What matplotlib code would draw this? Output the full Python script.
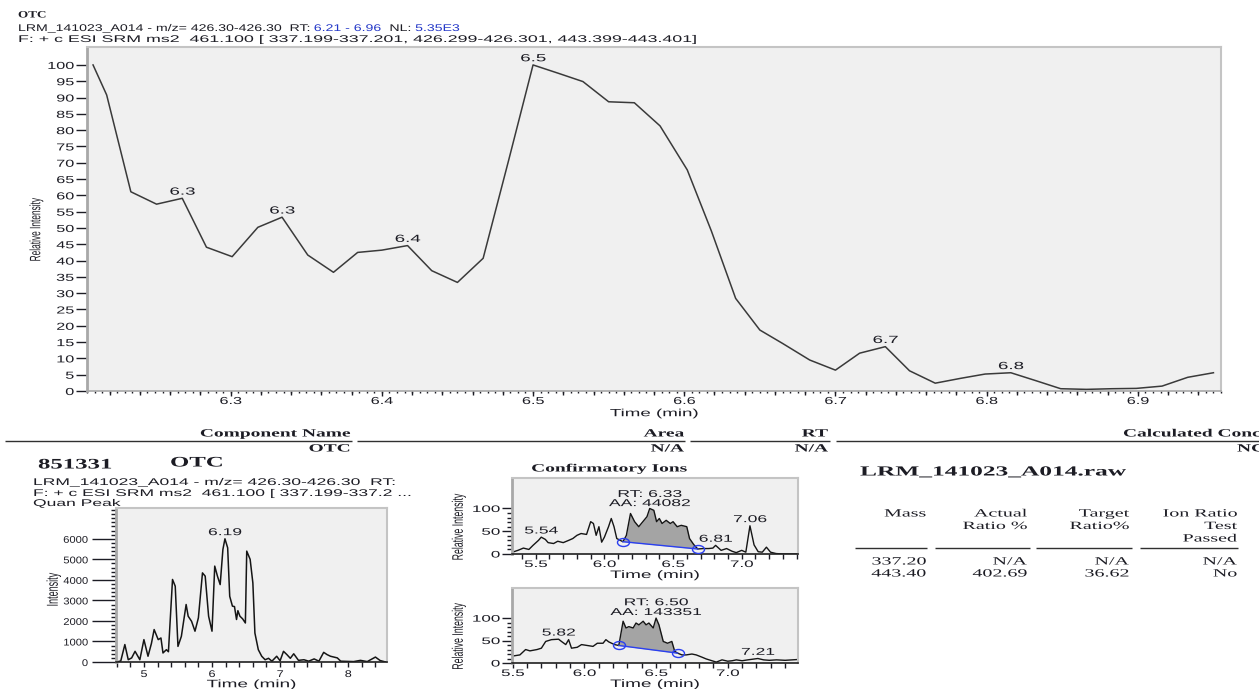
import numpy as np
import matplotlib
matplotlib.use("Agg")
import matplotlib.pyplot as plt
from matplotlib.patheffects import AbstractPathEffect
from matplotlib.transforms import Affine2D
from matplotlib.ticker import MultipleLocator, FixedLocator
from matplotlib.path import Path

# XIC of m/z 426.30, relative intensity (NL 5.35E3)
xic_time = [6.209, 6.218, 6.234, 6.251, 6.268, 6.284, 6.301, 6.318, 6.334, 6.351,
            6.368, 6.384, 6.400, 6.417, 6.433, 6.450, 6.467, 6.484, 6.500, 6.517,
            6.533, 6.550, 6.567, 6.584, 6.602, 6.618, 6.634, 6.650, 6.665, 6.683,
            6.700, 6.716, 6.733, 6.749, 6.766, 6.783, 6.799, 6.816, 6.833, 6.849,
            6.866, 6.883, 6.899, 6.916, 6.933, 6.950]
xic_rel = [100, 90.8, 61.1, 57.3, 59.1, 44.1, 41.2, 50.2, 53.3, 41.7,
           36.4, 42.5, 43.2, 44.6, 36.9, 33.3, 40.7, 71.0, 100, 97.4,
           94.9, 88.7, 88.4, 81.3, 67.8, 49.0, 28.4, 18.7, 14.6, 9.5,
           6.4, 11.6, 13.6, 6.2, 2.4, 3.9, 5.2, 5.6, 3.1, 0.7,
           0.5, 0.7, 0.8, 1.5, 4.2, 5.6]
xic_apex = [6.268, 6.334, 6.417, 6.500, 6.733, 6.816]

# quan peak trace (intensity counts)
quan_time = [4.60, 4.66, 4.72, 4.77, 4.82, 4.87, 4.94, 5.00, 5.06, 5.11,
             5.15, 5.21, 5.25, 5.28, 5.33, 5.36, 5.42, 5.46, 5.50, 5.55,
             5.62, 5.65, 5.70, 5.75, 5.80, 5.86, 5.90, 5.95, 6.00, 6.04,
             6.08, 6.12, 6.16, 6.19, 6.23, 6.26, 6.30, 6.33, 6.36, 6.38,
             6.41, 6.45, 6.49, 6.51, 6.56, 6.60, 6.63, 6.68, 6.73, 6.78,
             6.83, 6.88, 6.95, 7.00, 7.05, 7.10, 7.15, 7.20, 7.27, 7.35,
             7.42, 7.50, 7.57, 7.64, 7.69, 7.74, 7.84, 7.89, 7.98, 8.08,
             8.18, 8.28, 8.40, 8.47, 8.55]
quan_int = [0, 50, 850, 110, 200, 520, 110, 1090, 280, 900,
            1580, 1090, 1170, 440, 600, 500, 4020, 3690, 760, 1250,
            2800, 2230, 1980, 1500, 2150, 4340, 4180, 2230, 1500, 4670,
            4180, 3770, 5480, 6000, 5560, 3200, 2720, 2700, 2070, 2500,
            2230, 2100, 1900, 5400, 5000, 3850, 1410, 600, 280, 110,
            180, 40, 280, 60, 520, 360, 180, 400, 80, 110,
            40, 150, 40, 470, 360, 280, 200, 40, 30, 20,
            80, 20, 240, 70, 0]
quan_apex = 6.19

# confirmatory ion 1
ion1_time = [5.33, 5.37, 5.41, 5.45, 5.48, 5.52, 5.54, 5.57, 5.59, 5.63,
             5.66, 5.70, 5.74, 5.77, 5.80, 5.83, 5.87, 5.90, 5.92, 5.94,
             5.96, 5.98, 6.00, 6.03, 6.05, 6.07, 6.09, 6.135, 6.16, 6.19,
             6.22, 6.25, 6.28, 6.31, 6.33, 6.36, 6.38, 6.40, 6.42, 6.45,
             6.48, 6.50, 6.53, 6.56, 6.60, 6.62, 6.65, 6.68, 6.72, 6.76,
             6.79, 6.81, 6.85, 6.89, 6.93, 6.96, 7.00, 7.03, 7.06, 7.09,
             7.12, 7.15, 7.18, 7.21, 7.25, 7.30, 7.35, 7.41]
ion1_rel = [4, 8, 13, 10, 19, 30, 37, 32, 25, 23,
            28, 25, 30, 34, 41, 45, 43, 71, 67, 41,
            60, 26, 37, 60, 78, 60, 34, 27, 41, 89,
            71, 60, 71, 82, 100, 96, 71, 78, 67, 74,
            67, 71, 60, 63, 60, 34, 21, 11, 12, 12,
            13, 19, 8, 12, 6, 3, 8, 4, 62, 20,
            5, 4, 15, 4, 1, 0, 0, 0]
ion1_window = (6.135, 6.68)
ion1_rt, ion1_area = 6.33, 44082
ion1_marks = [5.54, 6.81, 7.06]

# confirmatory ion 2
ion2_time = [5.49, 5.55, 5.59, 5.62, 5.67, 5.70, 5.73, 5.77, 5.82, 5.84,
             5.87, 5.89, 5.91, 5.95, 5.98, 6.02, 6.06, 6.09, 6.13, 6.15,
             6.17, 6.21, 6.24, 6.27, 6.29, 6.31, 6.34, 6.36, 6.38, 6.41,
             6.43, 6.45, 6.48, 6.50, 6.52, 6.55, 6.58, 6.61, 6.63, 6.65,
             6.68, 6.71, 6.75, 6.78, 6.82, 6.85, 6.89, 6.92, 6.96, 7.00,
             7.03, 7.06, 7.10, 7.14, 7.21, 7.25, 7.29, 7.34, 7.40, 7.45,
             7.50]
ion2_rel = [15, 18, 30, 27, 30, 33, 48, 52, 53, 48,
            41, 52, 33, 35, 41, 39, 37, 44, 44, 52,
            47, 41, 39, 93, 78, 81, 78, 89, 85, 93,
            85, 89, 78, 100, 85, 48, 44, 48, 26, 22,
            18, 18, 20, 18, 13, 9, 5, 2, 7, 4,
            5, 7, 5, 7, 10, 7, 6, 7, 6, 7,
            8]
ion2_window = (6.24, 6.65)
ion2_rt, ion2_area = 6.50, 143351
ion2_marks = [5.82, 7.21]

# ion ratio table
ion_mass = ["337.20", "443.40"]
actual_ratio = ["N/A", "402.69"]
target_ratio = ["N/A", "36.62"]
ratio_passed = ["N/A", "No"]

W, H = 1259, 689
PX = 0.72          # points per pixel at 100 dpi
S = 1.75
SANS = "Liberation Sans"
SERIF = "Liberation Serif"
INK = "#1c1c24"
BLUE = "#2438c8"
PANEL = "#f0f0f0"


class Stretch(AbstractPathEffect):
    """Draw text wider than its font, keeping the aligned edge in place."""

    def __init__(self, factor=S, anchor="left", axis="x"):
        super().__init__()
        self.factor = factor
        self.anchor = anchor
        self.axis = axis

    def draw_path(self, renderer, gc, tpath, affine, rgbFace=None):
        k = 0 if self.axis == "x" else 1
        v = tpath.vertices
        lo, hi = (v[:, k].min(), v[:, k].max()) if len(v) else (0.0, 0.0)
        c = {"left": 0.0, "center": (lo + hi) / 2, "right": hi}[self.anchor]
        if k == 0:
            t = Affine2D().translate(-c, 0).scale(self.factor, 1).translate(c, 0)
        else:
            t = Affine2D().translate(0, -c).scale(1, self.factor).translate(0, c)
        renderer.draw_path(gc, tpath, t + affine, rgbFace)


fig = plt.figure(figsize=(W / 100, H / 100), dpi=100, facecolor="white")
bg = fig.add_axes([0, 0, 1, 1], zorder=0)
bg.set_xlim(0, W)
bg.set_ylim(H, 0)
bg.axis("off")


def box(l, t, r, b):
    return fig.add_axes([l / W, 1 - b / H, (r - l) / W, (b - t) / H], zorder=2)


def put(x, y, s, size=7, ha="left", va="center", family=SANS, sx=S, color=INK, **kw):
    return bg.text(x, y, s, fontsize=size, ha=ha, va=va, family=family, color=color,
                   path_effects=[Stretch(sx, ha)], **kw)


def chain(x, y, parts, **kw):
    r = fig.canvas.get_renderer()
    sx = kw.get("sx", S)
    for s, c in parts:
        t = put(x, y, s, color=c, **kw)
        x += t.get_window_extent(r).width * sx


def rule(y, segs, lw=1.0):
    for a, b in segs:
        bg.plot([a, b], [y, y], color="#303030", lw=lw, solid_capstyle="butt")


def frame(ax, left="#a8a8a8", bottom="#a8a8a8"):
    ax.set_facecolor(PANEL)
    for side in ("top", "right"):
        ax.spines[side].set_color("#c4c4c4")
        ax.spines[side].set_linewidth(1.5)
    ax.spines["left"].set_color(left)
    ax.spines["left"].set_linewidth(2)
    ax.spines["bottom"].set_color(bottom)
    ax.spines["bottom"].set_linewidth(1.2)


def stretch_ticks(ax, sx_x, sx_y):
    for t in ax.get_xticklabels():
        t.set_path_effects([Stretch(sx_x, "center")])
    for t in ax.get_yticklabels():
        t.set_path_effects([Stretch(sx_y, "right")])


def stretch_labels(ax, sx=S):
    ax.xaxis.label.set_path_effects([Stretch(sx, "center")])
    ax.yaxis.label.set_path_effects([Stretch(sx, "center", axis="y")])


# ---------------- header ----------------
put(18, 15, "OTC", size=7, family=SERIF, weight="bold", sx=1.35)
chain(18, 28, [("LRM_141023_A014 - m/z= 426.30-426.30  RT: ", INK),
               ("6.21 - 6.96", BLUE), ("  NL: ", INK), ("5.35E3", BLUE)], size=7, sx=1.45)
put(18, 39, "F: + c ESI SRM ms2  461.100 [ 337.199-337.201, 426.299-426.301, "
            "443.399-443.401]", size=7, sx=1.83)

# ---------------- main chromatogram ----------------
ax = box(87, 47, 1221, 391)
frame(ax)
ax.plot(xic_time, xic_rel, color="#3a3a3a", lw=1.1)
ax.set_xlim(6.205, 6.955)
ax.set_ylim(0, 105.5)
ax.yaxis.set_major_locator(FixedLocator(range(0, 101, 5)))
ax.xaxis.set_major_locator(FixedLocator([6.3, 6.4, 6.5, 6.6, 6.7, 6.8, 6.9]))
ax.xaxis.set_minor_locator(MultipleLocator(0.02))
ax.tick_params(axis="y", length=11 * PX, width=1, pad=2 * PX, labelsize=7.3, colors=INK)
ax.tick_params(axis="x", which="major", length=5 * PX, width=1, pad=0,
               labelsize=7.3, colors=INK)
ax.tick_params(axis="x", which="minor", length=4 * PX, width=1, colors=INK)
fine = ax.secondary_xaxis("bottom")
fine.xaxis.set_major_locator(MultipleLocator(0.005))
fine.tick_params(length=2 * PX, width=1, labelbottom=False, colors=INK)
fine.spines["bottom"].set_visible(False)
for t in xic_apex:
    v = xic_rel[xic_time.index(t)]
    ax.annotate(f"{t:.1f}", (t, v), xytext=(0, 1.2), textcoords="offset points",
                ha="center", va="bottom", fontsize=7.5, family=SANS, color=INK,
                path_effects=[Stretch(1.8, "center")])
ax.set_xlabel("Time (min)", fontsize=7.5, family=SANS, color=INK)
ax.set_ylabel("Relative Intensity", fontsize=6, family=SANS, color=INK)
ax.xaxis.set_label_coords(0.5, -0.05)
ax.yaxis.set_label_coords(-0.041, 0.47)
for lab in ax.get_xticklabels() + ax.get_yticklabels():
    lab.set_family(SANS)
stretch_ticks(ax, 1.6, 1.6)
stretch_labels(ax, 1.8)

# ---------------- component table ----------------
sb = dict(family=SERIF, weight="bold", size=8)
put(350, 434, "Component Name", ha="right", **sb)
put(684, 434, "Area", ha="right", **sb)
put(828, 434, "RT", ha="right", **sb)
put(1123, 434, "Calculated Conc", **sb)
rule(441, [(5, 352), (357, 685), (690, 830), (836, W)])
put(350, 449, "OTC", ha="right", **sb)
put(684, 449, "N/A", ha="right", **sb)
put(828, 449, "N/A", ha="right", **sb)
put(1237, 449, "NC", **sb)

# ---------------- quan peak ----------------
put(38, 465, "851331", size=10.5, family=SERIF, weight="bold", sx=1.7)
put(170, 463, "OTC", size=10.5, family=SERIF, weight="bold", sx=1.7)
put(33, 482, "LRM_141023_A014 - m/z= 426.30-426.30  RT:", size=7, sx=1.8)
put(33, 493, "F: + c ESI SRM ms2  461.100 [ 337.199-337.2 ...", size=7, sx=1.8)
put(33, 503, "Quan Peak", size=7, sx=1.8)

qa = box(116, 508, 387, 662)
frame(qa, bottom="#202020")
qa.plot(quan_time, quan_int, color="#151515", lw=1.1)
qa.set_xlim(4.59, 8.57)
qa.set_ylim(0, 7500)
qa.yaxis.set_major_locator(FixedLocator(range(0, 6001, 1000)))
qa.yaxis.set_minor_locator(MultipleLocator(200))
qa.xaxis.set_major_locator(MultipleLocator(1))
qa.xaxis.set_minor_locator(MultipleLocator(0.2))
qa.tick_params(axis="y", which="major", length=24 * PX, width=1, pad=4 * PX,
               labelsize=7, colors=INK)
qa.tick_params(axis="y", which="minor", length=5 * PX, width=1, colors=INK)
qa.tick_params(axis="x", which="both", length=5 * PX, width=1, pad=2 * PX,
               labelsize=7, colors=INK)
qa.annotate(f"{quan_apex:.2f}", (quan_apex, quan_int[quan_time.index(quan_apex)]),
            xytext=(0, 1.2), textcoords="offset points", ha="center", va="bottom",
            fontsize=7.2, family=SANS, color=INK, path_effects=[Stretch(1.75, "center")])
qa.set_xlabel("Time (min)", fontsize=7.8, family=SANS, color=INK)
qa.set_ylabel("Intensity", fontsize=6.5, family=SANS, color=INK)
qa.xaxis.set_label_coords(0.5, -0.112)
qa.yaxis.set_label_coords(-0.214, 0.47)
for lab in qa.get_xticklabels() + qa.get_yticklabels():
    lab.set_family(SANS)
stretch_ticks(qa, 1.3, 1.15)
stretch_labels(qa)

# ---------------- confirmatory ions ----------------
put(609, 469, "Confirmatory Ions", ha="center", family=SERIF, weight="bold", size=8)

ring = Path.unit_circle().transformed(Affine2D().scale(1.5, 1))


def ion_panel(rect, xlim, time, rel, window, rt, area, marks, rt_y, aa_y, label_top):
    a = box(*rect)
    frame(a, bottom="#202020")
    time = np.asarray(time)
    rel = np.asarray(rel, dtype=float)
    t0, t1 = window
    y0, y1 = np.interp([t0, t1], time, rel)
    inside = (time > t0) & (time < t1)
    tt = np.concatenate([[t0], time[inside], [t1]])
    yy = np.concatenate([[y0], rel[inside], [y1]])
    base = np.interp(tt, [t0, t1], [y0, y1])
    a.fill_between(tt, base, yy, color="#a4a4a4", lw=0, zorder=1)
    a.plot(time, rel, color="#151515", lw=1.0, zorder=2)
    a.plot([t0, t1], [y0, y1], color="#2a3ff0", lw=1.0, zorder=3)
    a.plot([t0, t1], [y0, y1], ls="none", marker=ring, ms=12 * PX, mfc="none",
           mec="#2a3ff0", mew=1.0, zorder=4)
    tr = a.get_xaxis_transform()
    a.text(rt, rt_y, f"RT: {rt:.2f}", transform=tr, ha="center", va="center",
           fontsize=7.2, family=SANS, color=INK, path_effects=[Stretch(S, "center")])
    a.text(rt, aa_y, f"AA: {area}", transform=tr, ha="center", va="center",
           fontsize=7.2, family=SANS, color=INK, path_effects=[Stretch(S, "center")])
    for m in marks:
        a.annotate(f"{m:.2f}", (m, np.interp(m, time, rel)), xytext=(0, 1.2),
                   textcoords="offset points", ha="center", va="bottom",
                   fontsize=7.2, family=SANS, color=INK,
                   path_effects=[Stretch(S, "center")])
    a.set_xlim(*xlim)
    a.set_ylim(0, 167)
    a.yaxis.set_major_locator(FixedLocator([0, 50, 100]))
    a.yaxis.set_minor_locator(FixedLocator(range(0, 101, 10)))
    a.xaxis.set_major_locator(MultipleLocator(0.5))
    a.xaxis.set_minor_locator(MultipleLocator(0.1))
    a.xaxis.set_major_formatter(lambda v, p: f"{v:.1f}")
    a.tick_params(axis="y", which="major", length=10 * PX, width=1, pad=2 * PX,
                  labelsize=6.8, colors=INK)
    a.tick_params(axis="y", which="minor", length=5 * PX, width=1, colors=INK)
    a.tick_params(axis="x", which="both", length=5 * PX, width=1, pad=1 * PX,
                  labelsize=6.8, colors=INK)
    a.set_xlabel("Time (min)", fontsize=7.8, family=SANS, color=INK)
    a.set_ylabel("Relative Intensity", fontsize=6.3, family=SANS, color=INK)
    h = rect[3] - rect[1]
    a.xaxis.set_label_coords(0.5, -label_top / h)
    a.yaxis.set_label_coords(-0.171, 0.355)
    for lab in a.get_xticklabels() + a.get_yticklabels():
        lab.set_family(SANS)
    stretch_ticks(a, 1.8, 1.8)
    stretch_labels(a)
    return a


ion_panel((512, 478, 798, 554), (5.327, 7.41), ion1_time, ion1_rel, ion1_window,
          ion1_rt, ion1_area, ion1_marks, 0.79, 0.67, 16)
ion_panel((512, 588, 798, 663), (5.495, 7.49), ion2_time, ion2_rel, ion2_window,
          ion2_rt, ion2_area, ion2_marks, 0.81, 0.68, 16)

# ---------------- ion ratio table ----------------
put(860, 472, "LRM_141023_A014.raw", size=10, family=SERIF, weight="bold", sx=1.83)
cols = [926, 1027, 1129, 1237]
heads = [["Mass"], ["Actual", "Ratio %"], ["Target", "Ratio%"], ["Ion Ratio", "Test", "Passed"]]
for x, lines in zip(cols, heads):
    for i, s in enumerate(lines):
        put(x, 514 + 12.5 * i, s, ha="right", family=SERIF, size=8, sx=1.8)
rule(548, [(855, 927), (935, 1030), (1036, 1132), (1140, 1238)])
for i, row in enumerate(zip(ion_mass, actual_ratio, target_ratio, ratio_passed)):
    for x, s in zip(cols, row):
        put(x, 562 + 12 * i, s, ha="right", family=SERIF, size=8, sx=1.8)

fig.savefig("out.png", dpi=100, facecolor="white")
